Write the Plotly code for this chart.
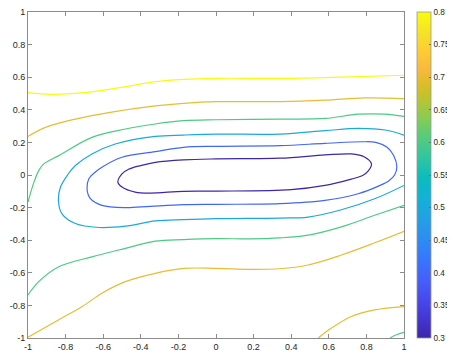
import plotly.graph_objects as go
from plotly.colors import sample_colorscale

# ---- data ----
levels = [0.3, 0.4, 0.5, 0.6, 0.7, 0.8]
cbar_ticks = [0.3, 0.35, 0.4, 0.45, 0.5, 0.55, 0.6, 0.65, 0.7, 0.75, 0.8]
cbar_labels = ["0.3", "0.35", "0.4", "0.45", "0.5", "0.55", "0.6", "0.65", "0.7", "0.75", "0.8"]
axis_ticks = [-1, -0.8, -0.6, -0.4, -0.2, 0, 0.2, 0.4, 0.6, 0.8, 1]
axis_labels = ["-1", "-0.8", "-0.6", "-0.4", "-0.2", "0", "0.2", "0.4", "0.6", "0.8", "1"]

# level 0.3 (closed loop)
c03_x = [0.004, 0.34, 0.58, 0.72, 0.79, 0.827, 0.81, 0.78, 0.72, 0.58, 0.40, 0.004, -0.173, -0.35, -0.43, -0.50, -0.522, -0.50, -0.465, -0.40, -0.323, -0.173, 0.004]
c03_y = [0.099, 0.103, 0.123, 0.129, 0.11, 0.068, 0.025, -0.003, -0.025, -0.064, -0.09, -0.099, -0.10, -0.111, -0.105, -0.074, -0.044, 0.007, 0.035, 0.058, 0.078, 0.093, 0.099]
# level 0.4 (closed loop)
c04_x = [0.004, 0.34, 0.58, 0.78, 0.85, 0.91, 0.945, 0.962, 0.95, 0.92, 0.87, 0.756, 0.58, 0.34, 0.004, -0.173, -0.35, -0.482, -0.607, -0.668, -0.686, -0.675, -0.64, -0.607, -0.50, -0.323, -0.173, 0.004]
c04_y = [0.176, 0.18, 0.194, 0.204, 0.2, 0.17, 0.12, 0.05, 0.0, -0.035, -0.065, -0.115, -0.156, -0.176, -0.18, -0.182, -0.192, -0.20, -0.186, -0.145, -0.084, -0.02, 0.02, 0.048, 0.109, 0.143, 0.17, 0.176]
# level 0.5
c05_x = [1.0, 0.9, 0.756, 0.58, 0.34, 0.004, -0.173, -0.323, -0.536, -0.66, -0.748, -0.79, -0.827, -0.838, -0.82, -0.748, -0.624, -0.482, -0.323, -0.173, 0.004, 0.34, 0.49, 0.667, 0.844, 1.0]
c05_y = [0.245, 0.276, 0.286, 0.272, 0.251, 0.251, 0.245, 0.237, 0.19, 0.129, 0.058, 0.0, -0.074, -0.156, -0.237, -0.298, -0.322, -0.314, -0.282, -0.274, -0.268, -0.264, -0.258, -0.213, -0.146, -0.064]
# level 0.6 (upper branch)
c06a_x = [-1.0, -0.97, -0.943, -0.916, -0.836, -0.66, -0.482, -0.323, -0.173, 0.004, 0.34, 0.58, 0.756, 0.897, 1.0]
c06a_y = [-0.166, -0.05, 0.027, 0.068, 0.119, 0.231, 0.282, 0.313, 0.333, 0.339, 0.343, 0.347, 0.373, 0.373, 0.359]
# level 0.6 (lower branch)
c06b_x = [-1.0, -0.943, -0.836, -0.66, -0.482, -0.323, -0.173, 0.004, 0.18, 0.34, 0.49, 0.667, 0.844, 1.0]
c06b_y = [-0.736, -0.654, -0.563, -0.502, -0.45, -0.406, -0.396, -0.39, -0.392, -0.386, -0.369, -0.318, -0.247, -0.186]
# level 0.6 (bottom-right corner)
c06c_x = [0.925, 0.96, 1.0]
c06c_y = [-1.0, -0.98, -0.965]
# level 0.7 (upper branch)
c07a_x = [-1.0, -0.907, -0.748, -0.571, -0.323, -0.173, 0.004, 0.34, 0.58, 0.79, 1.0]
c07a_y = [0.237, 0.292, 0.343, 0.383, 0.424, 0.44, 0.45, 0.45, 0.459, 0.473, 0.469]
# level 0.7 (lower branch)
c07b_x = [-1.0, -0.836, -0.712, -0.607, -0.482, -0.323, -0.173, 0.004, 0.18, 0.34, 0.49, 0.667, 0.844, 1.0]
c07b_y = [-0.995, -0.888, -0.807, -0.725, -0.654, -0.603, -0.573, -0.573, -0.579, -0.575, -0.552, -0.491, -0.416, -0.345]
# level 0.7 (bottom-right corner)
c07c_x = [0.544, 0.614, 0.72, 0.844, 1.0]
c07c_y = [-1.0, -0.939, -0.868, -0.827, -0.807]
# level 0.8
c08_x = [-1.0, -0.872, -0.66, -0.482, -0.323, -0.173, 0.004, 0.34, 0.667, 1.0]
c08_y = [0.505, 0.495, 0.51, 0.542, 0.573, 0.587, 0.593, 0.593, 0.601, 0.612]

paths = [
    (0.3, c03_x, c03_y), (0.4, c04_x, c04_y), (0.5, c05_x, c05_y),
    (0.6, c06a_x, c06a_y), (0.6, c06b_x, c06b_y), (0.6, c06c_x, c06c_y),
    (0.7, c07a_x, c07a_y), (0.7, c07b_x, c07b_y), (0.7, c07c_x, c07c_y),
    (0.8, c08_x, c08_y),
]

parula = [
    [0.000, "rgb(62,38,168)"], [0.048, "rgb(67,50,203)"], [0.111, "rgb(71,71,235)"],
    [0.175, "rgb(70,94,251)"], [0.238, "rgb(56,117,254)"], [0.302, "rgb(45,140,243)"],
    [0.365, "rgb(35,160,229)"], [0.429, "rgb(18,177,214)"], [0.492, "rgb(11,189,189)"],
    [0.556, "rgb(49,198,159)"], [0.619, "rgb(87,204,122)"], [0.683, "rgb(143,203,78)"],
    [0.746, "rgb(197,194,42)"], [0.778, "rgb(220,189,41)"], [0.825, "rgb(248,186,61)"],
    [0.873, "rgb(254,201,52)"], [0.937, "rgb(245,227,39)"], [1.000, "rgb(249,251,14)"],
]
cmin, cmax = levels[0], levels[-1]

fig = go.Figure()
for lev, xs, ys in paths:
    col = sample_colorscale(parula, [(lev - cmin) / (cmax - cmin)])[0]
    fig.add_trace(go.Scatter(x=xs, y=ys, mode="lines",
                             line=dict(color=col, width=1.2, shape="spline", smoothing=1.0),
                             showlegend=False, hoverinfo="skip"))

# colorbar carrier
fig.add_trace(go.Scatter(
    x=[-5], y=[-5], mode="markers", showlegend=False, hoverinfo="skip",
    marker=dict(color=[cmin], colorscale=parula, cmin=cmin, cmax=cmax, size=1,
                showscale=True,
                colorbar=dict(x=1.0346, xanchor="left", xpad=0, y=0.5, yanchor="middle",
                              ypad=0, len=1, lenmode="fraction", thickness=14,
                              outlinewidth=0.8, outlinecolor="#9a9a9a",
                              tickmode="array", tickvals=cbar_ticks, ticktext=cbar_labels,
                              ticks="inside", ticklen=2, tickcolor="#666",
                              ticklabeloverflow="allow",
                              tickfont=dict(family="Liberation Sans, Arial", size=8.2, color="#262626")))))

axis_common = dict(range=[-1, 1], tickmode="array", tickvals=axis_ticks, ticktext=axis_labels,
                   ticks="inside", ticklen=4, tickcolor="#8c8c8c", showline=True,
                   linecolor="#8c8c8c", linewidth=1, mirror="ticks", showgrid=False,
                   zeroline=False, ticklabeloverflow="allow",
                   tickfont=dict(family="Liberation Sans, Arial", size=9, color="#262626"))
fig.update_xaxes(**axis_common)
fig.update_yaxes(**axis_common)
# page body has an 8px default margin, so the plot area is offset to land where the reference has it
fig.update_layout(width=447, height=343, plot_bgcolor="white", paper_bgcolor="white",
                  margin=dict(l=20, r=51, t=4, b=13, autoexpand=False))
fig.write_html("out.html")
